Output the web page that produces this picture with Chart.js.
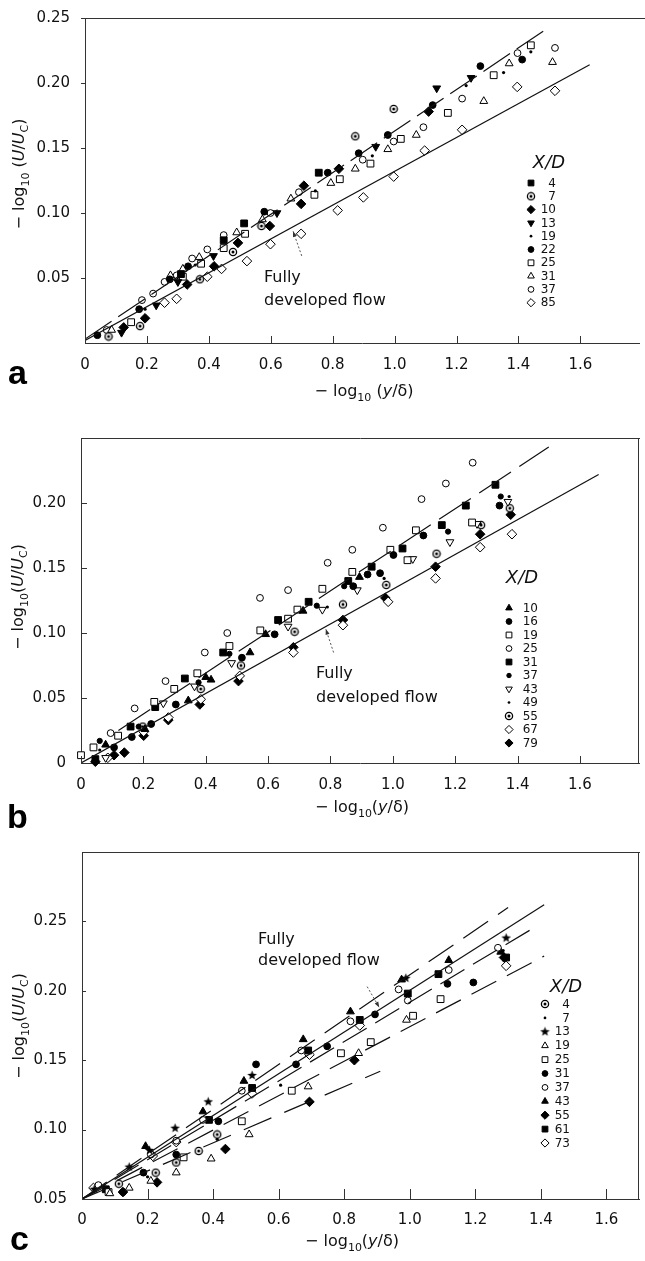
<!DOCTYPE html>
<html><head><meta charset="utf-8">
<script src="https://cdn.jsdelivr.net/npm/chart.js@4.4.0/dist/chart.umd.min.js"></script>
<style>
html,body{margin:0;padding:0;background:#fff;}
body{width:645px;height:1261px;position:relative;overflow:hidden;}
canvas{position:absolute;left:0;}
</style></head><body>
<canvas id="ca" width="645" height="410" style="top:0px"></canvas>
<canvas id="cb" width="645" height="420" style="top:410px"></canvas>
<canvas id="cc" width="645" height="431" style="top:830px"></canvas>
<script>
// ---------------- tick values / labels ----------------
const xTickVals = [0,0.2,0.4,0.6,0.8,1.0,1.2,1.4,1.6];
const xTickLabels = ['0','0.2','0.4','0.6','0.8','1.0','1.2','1.4','1.6'];
const aYTickVals = [0.05,0.10,0.15,0.20,0.25];
const aYTickLabels = ['0.05','0.10','0.15','0.20','0.25'];
const bYTickVals = [0,0.05,0.10,0.15,0.20];
const bYTickLabels = ['0','0.05','0.10','0.15','0.20'];
const cYTickVals = [0.05,0.10,0.15,0.20,0.25];
const cYTickLabels = ['0.05','0.10','0.15','0.20','0.25'];

// ---------------- panel a data (X/D categories) ----------------
const aCategories = ['4','7','10','13','19','22','25','31','37','85'];
const a4  = [[0.31,0.053],[0.448,0.079],[0.514,0.092],[0.755,0.131]];
const a7  = [[0.076,0.005],[0.178,0.013],[0.371,0.049],[0.478,0.070],[0.570,0.090],[0.873,0.159],[0.997,0.180]];
const a10 = [[0.125,0.012],[0.194,0.019],[0.33,0.045],[0.417,0.059],[0.494,0.077],[0.597,0.090],[0.698,0.107],[0.707,0.121],[0.82,0.134],[1.11,0.178]];
const a13 = [[0.118,0.008],[0.23,0.029],[0.30,0.047],[0.415,0.067],[0.62,0.100],[0.939,0.151],[1.136,0.196],[1.247,0.204]];
const a19 = [[0.194,0.026],[0.356,0.060],[0.744,0.117],[0.928,0.144],[1.231,0.198],[1.352,0.208],[1.44,0.224]];
const a22 = [[0.04,0.006],[0.175,0.026],[0.274,0.049],[0.333,0.059],[0.579,0.101],[0.784,0.131],[0.884,0.146],[0.978,0.160],[1.123,0.183],[1.277,0.213],[1.412,0.218]];
const a25 = [[0.149,0.016],[0.316,0.051],[0.375,0.061],[0.448,0.073],[0.517,0.084],[0.741,0.114],[0.823,0.126],[0.922,0.138],[1.02,0.157],[1.172,0.177],[1.32,0.206],[1.44,0.229]];
const a31 = [[0.086,0.010],[0.276,0.052],[0.316,0.057],[0.369,0.066],[0.49,0.085],[0.573,0.095],[0.665,0.111],[0.794,0.123],[0.873,0.134],[0.978,0.149],[1.07,0.160],[1.288,0.186],[1.37,0.215],[1.51,0.216]];
const a37 = [[0.07,0.010],[0.184,0.033],[0.22,0.038],[0.257,0.047],[0.296,0.052],[0.346,0.065],[0.395,0.072],[0.448,0.083],[0.599,0.100],[0.691,0.116],[0.897,0.141],[0.997,0.155],[1.093,0.166],[1.218,0.188],[1.397,0.223],[1.518,0.227]];
const a85 = [[0.257,0.031],[0.296,0.034],[0.395,0.051],[0.441,0.057],[0.523,0.063],[0.599,0.076],[0.698,0.084],[0.816,0.102],[0.899,0.112],[0.997,0.128],[1.097,0.148],[1.218,0.164],[1.396,0.197],[1.518,0.194]];
const aSeries = [a4,a7,a10,a13,a19,a22,a25,a31,a37,a85];
const aFullX = [0, 1.63],  aFullY = [0.002, 0.214];
const aUpX   = [0, 1.50],  aUpY   = [0.003, 0.243];

// ---------------- panel b data ----------------
const bCategories = ['10','16','19','25','31','37','43','49','55','67','79'];
const b10 = [[0.079,0.014],[0.205,0.026],[0.344,0.048],[0.40,0.066],[0.417,0.064],[0.542,0.085],[0.592,0.099],[0.712,0.117],[0.893,0.143]];
const b16 = [[0.106,0.012],[0.163,0.020],[0.225,0.030],[0.304,0.045],[0.516,0.081],[0.621,0.099],[0.873,0.136],[0.919,0.145],[0.959,0.146],[1.002,0.160],[1.098,0.175],[1.342,0.198]];
const b19 = [[0.0,0.006],[0.04,0.012],[0.119,0.021],[0.235,0.047],[0.299,0.057],[0.373,0.069],[0.476,0.090],[0.575,0.102],[0.664,0.111],[0.694,0.118],[0.774,0.134],[0.87,0.147],[0.992,0.164],[1.047,0.156],[1.074,0.179],[1.254,0.185]];
const b25 = [[0.095,0.023],[0.172,0.042],[0.271,0.063],[0.397,0.085],[0.469,0.100],[0.574,0.127],[0.664,0.133],[0.791,0.154],[0.87,0.164],[0.968,0.181],[1.092,0.203],[1.17,0.215],[1.256,0.231]];
const b31 = [[0.046,0.003],[0.159,0.028],[0.238,0.043],[0.333,0.065],[0.456,0.085],[0.632,0.110],[0.73,0.124],[0.857,0.140],[0.932,0.151],[1.031,0.165],[1.157,0.183],[1.234,0.198],[1.329,0.214]];
const b37 = [[0.06,0.017],[0.185,0.028],[0.377,0.062],[0.476,0.084],[0.756,0.121],[0.844,0.136],[1.177,0.178],[1.346,0.205]];
const b43 = [[0.079,0.004],[0.264,0.046],[0.364,0.059],[0.483,0.077],[0.664,0.105],[0.774,0.118],[0.886,0.133],[1.064,0.157],[1.183,0.170],[1.27,0.184],[1.369,0.201]];
const b49 = [[0.06,0.010],[0.79,0.120],[0.972,0.142],[1.18,0.178],[1.28,0.184],[1.373,0.205]];
const b55 = [[0.198,0.028],[0.384,0.057],[0.513,0.075],[0.685,0.101],[0.84,0.122],[0.979,0.137],[1.14,0.161],[1.283,0.183],[1.375,0.196]];
const b67 = [[0.086,0.004],[0.201,0.024],[0.28,0.035],[0.384,0.049],[0.509,0.067],[0.681,0.085],[0.84,0.106],[0.985,0.124],[1.137,0.142],[1.28,0.166],[1.382,0.176]];
const b79 = [[0.046,0.001],[0.106,0.006],[0.139,0.008],[0.201,0.021],[0.28,0.033],[0.381,0.045],[0.505,0.063],[0.681,0.089],[0.84,0.110],[0.976,0.127],[1.137,0.151],[1.28,0.176],[1.378,0.191]];
const bSeries = [b10,b16,b19,b25,b31,b37,b43,b49,b55,b67,b79];
const bFullX = [0, 1.66], bFullY = [0.0, 0.222];
const bUpX   = [0.12, 1.50], bUpY = [0.025, 0.243];

// ---------------- panel c data ----------------
const cCategories = ['4','7','13','19','25','31','37','43','55','61','73'];
const c4  = [[0.1125,0.061],[0.225,0.069],[0.2875,0.0763],[0.356,0.0846],[0.4125,0.0965]];
const c7  = [[0.2,0.066],[0.4125,0.093],[0.606,0.132],[1.285,0.229]];
const c13 = [[0.0375,0.057],[0.144,0.073],[0.206,0.085],[0.284,0.101],[0.385,0.120],[0.519,0.139],[0.988,0.209],[1.294,0.238]];
const c19 = [[0.085,0.054],[0.144,0.058],[0.21,0.063],[0.2875,0.069],[0.394,0.079],[0.51,0.0965],[0.69,0.131],[0.844,0.155],[0.99,0.179]];
const c25 = [[0.081,0.055],[0.31,0.080],[0.4875,0.106],[0.64,0.128],[0.79,0.155],[0.881,0.163],[1.01,0.182],[1.094,0.194]];
const c31 = [[0.125,0.055],[0.1875,0.069],[0.2875,0.082],[0.416,0.106],[0.531,0.147],[0.653,0.147],[0.748,0.160],[0.894,0.183],[1.115,0.205],[1.194,0.206]];
const c37 = [[0.05,0.060],[0.21,0.082],[0.2875,0.092],[0.369,0.107],[0.4875,0.128],[0.669,0.157],[0.819,0.178],[0.966,0.201],[0.994,0.193],[1.119,0.215],[1.269,0.231]];
const c43 = [[0.194,0.088],[0.369,0.113],[0.494,0.135],[0.675,0.165],[0.819,0.185],[0.975,0.208],[1.119,0.222],[1.2775,0.228]];
const c55 = [[0.125,0.055],[0.229,0.062],[0.4375,0.086],[0.694,0.120],[0.831,0.150],[1.2875,0.224]];
const c61 = [[0.0725,0.057],[0.3875,0.107],[0.519,0.130],[0.69,0.157],[0.8475,0.179],[0.994,0.198],[1.0875,0.212],[1.294,0.224]];
const c73 = [[0.035,0.058],[0.216,0.081],[0.2875,0.091],[0.519,0.126],[0.694,0.154],[0.8475,0.175],[1.294,0.218]];
const cSeries = [c4,c7,c13,c19,c25,c31,c37,c43,c55,c61,c73];
const cL1X = [0, 1.30], cL1Y = [0.05, 0.260];
const cL2X = [0, 1.41], cL2Y = [0.05, 0.262];
const cL3X = [0, 1.39], cL3Y = [0.05, 0.247];
const cL4X = [0, 1.41], cL4Y = [0.05, 0.225];
const cL5X = [0, 0.91], cL5Y = [0.05, 0.142];

// ---------------- marker styles ----------------
const FONT = 'DejaVu Sans';
function mkImg(draw, s){ const c=document.createElement('canvas'); c.width=s; c.height=s; draw(c.getContext('2d'), s); return c; }
const odotImg = mkImg((g,s)=>{ g.lineWidth=1.3; g.strokeStyle='#000'; g.fillStyle='#fff'; g.beginPath(); g.arc(s/2,s/2,3.6,0,Math.PI*2); g.fill(); g.stroke(); g.fillStyle='#000'; g.beginPath(); g.arc(s/2,s/2,1.5,0,Math.PI*2); g.fill(); }, 10);
const starImg = mkImg((g,s)=>{ g.fillStyle='#000'; g.beginPath(); for(let i=0;i<10;i++){ const r = i%2?2.1:5.0; const a=-Math.PI/2+i*Math.PI/5; const px=s/2+r*Math.cos(a), py=s/2+r*Math.sin(a); i?g.lineTo(px,py):g.moveTo(px,py);} g.closePath(); g.fill(); }, 11);
const MK = {
  sqF:{style:'rect', r:4.8, fill:'#000', bw:1},
  sqO:{style:'rect', r:4.8, fill:'#fff', bw:1},
  cirF:{style:'circle', r:3.4, fill:'#000', bw:1},
  cirS:{style:'circle', r:2.6, fill:'#000', bw:1},
  cirO:{style:'circle', r:3.4, fill:'#fff', bw:1},
  dot:{style:'circle', r:1.6, fill:'#000', bw:0},
  triF:{style:'triangle', r:4.5, fill:'#000', bw:1},
  triO:{style:'triangle', r:4.5, fill:'#fff', bw:1},
  triDF:{style:'triangle', r:4.5, rot:180, fill:'#000', bw:1},
  triDO:{style:'triangle', r:4.5, rot:180, fill:'#fff', bw:1},
  diaF:{style:'rectRot', r:4.8, fill:'#000', bw:1},
  diaO:{style:'rectRot', r:4.8, fill:'#fff', bw:1},
  odot:{style:odotImg, r:4, fill:'#fff', bw:1},
  star:{style:starImg, r:4, fill:'#000', bw:1}
};
const aMarkers = ['sqF','odot','diaF','triDF','dot','cirF','sqO','triO','cirO','diaO'];
const bMarkers = ['triF','cirF','sqO','cirO','sqF','cirS','triDO','dot','odot','diaO','diaF'];
const cMarkers = ['odot','dot','star','triO','sqO','cirF','cirO','triF','diaF','sqF','diaO'];

function scatterDs(points, mkName, label){
  const m = MK[mkName];
  return { label, data: points.map(p=>({x:p[0],y:p[1]})), showLine:false, clip:false,
    pointStyle:m.style, pointRadius:m.r, pointHoverRadius:m.r, pointRotation:m.rot||0,
    pointBackgroundColor:m.fill, pointBorderColor:'#000', pointBorderWidth:m.bw, isMarker:true };
}
function lineDs(xs, ys, dash){
  return { data: xs.map((x,i)=>({x, y:ys[i]})), showLine:true, borderColor:'#111', borderWidth:1.2,
    borderDash:dash||[], pointRadius:0, fill:false, isMarker:false };
}

// ---------------- decoration plugin ----------------
function richText(ctx, pieces, cx, cy, rot){
  let w=0; pieces.forEach(p=>{ ctx.font=p.f; p.w=ctx.measureText(p.t).width; w+=p.w; });
  ctx.save(); ctx.translate(cx,cy); if(rot) ctx.rotate(-Math.PI/2);
  let x=-w/2; ctx.textBaseline='alphabetic'; ctx.textAlign='left'; ctx.fillStyle='#111';
  pieces.forEach(p=>{ ctx.font=p.f; ctx.fillText(p.t, x, 6+(p.dy||0)); x+=p.w; });
  ctx.restore();
}
const decor = {
  id:'decor',
  afterDatasetsDraw(chart, args, o){
    const ctx=chart.ctx, ca=chart.chartArea, xs=chart.scales.x, ys=chart.scales.y;
    ctx.save();
    ctx.strokeStyle='#333'; ctx.lineWidth=1;
    ctx.beginPath();
    ctx.moveTo(ca.left, Math.round(ca.top)+0.5); ctx.lineTo(o.topEnd, Math.round(ca.top)+0.5);
    if(o.box){ ctx.moveTo(Math.round(ca.right)-0.5, ca.top); ctx.lineTo(Math.round(ca.right)-0.5, ca.bottom); }
    xTickVals.forEach(v=>{ const px=Math.round(xs.getPixelForValue(v))+0.5; ctx.moveTo(px, ca.bottom); ctx.lineTo(px, ca.bottom-o.xTick); });
    o.yTicks.forEach(v=>{ const py=Math.round(ys.getPixelForValue(v))+0.5; ctx.moveTo(ca.left, py); ctx.lineTo(ca.left+o.yTick, py); });
    ctx.stroke();
    // axis titles
    const f16 = '16px '+FONT, f11 = '11px '+FONT, i16='italic 16px '+FONT;
    const sp = o.tight ? '' : ' ';
    richText(ctx, [{t:'\u2212 log',f:f16},{t:'10',f:f11,dy:5},{t:sp+'(',f:f16},{t:'y',f:i16},{t:'/\u03B4)',f:f16}], o.xTitle[0], o.xTitle[1], false);
    richText(ctx, [{t:'\u2212 log',f:f16},{t:'10',f:f11,dy:5},{t:sp+'(',f:f16},{t:'U',f:i16},{t:'/',f:f16},{t:'U',f:i16},{t:'C',f:f11,dy:4},{t:')',f:f16}], o.yTitle[0], o.yTitle[1], true);
    // panel letter
    ctx.fillStyle='#000'; ctx.font='bold 34px Liberation Sans'; ctx.textAlign='left'; ctx.textBaseline='alphabetic';
    ctx.fillText(o.letter[0], o.letter[1], o.letter[2]);
    // annotation
    ctx.font='16px '+FONT; ctx.fillStyle='#111'; ctx.textBaseline='middle';
    ctx.fillText('Fully', o.note[0], o.note[1]);
    ctx.fillText('developed flow', o.note[0], o.note[2]);
    const ax0=xs.getPixelForValue(o.arrow[0]), ay0=ys.getPixelForValue(o.arrow[1]);
    const ax1=xs.getPixelForValue(o.arrow[2]), ay1=ys.getPixelForValue(o.arrow[3]);
    ctx.save(); ctx.setLineDash([2,2]); ctx.strokeStyle='#555'; ctx.lineWidth=1;
    ctx.beginPath(); ctx.moveTo(ax0,ay0); ctx.lineTo(ax1,ay1); ctx.stroke(); ctx.restore();
    const ang=Math.atan2(ay1-ay0, ax1-ax0);
    ctx.fillStyle='#333'; ctx.beginPath(); ctx.moveTo(ax1,ay1);
    ctx.lineTo(ax1-6*Math.cos(ang-0.35), ay1-6*Math.sin(ang-0.35));
    ctx.lineTo(ax1-6*Math.cos(ang+0.35), ay1-6*Math.sin(ang+0.35)); ctx.closePath(); ctx.fill();
    // legend
    const L=o.legend;
    ctx.font='italic 18px '+FONT; ctx.textAlign='center'; ctx.textBaseline='middle'; ctx.fillStyle='#111';
    ctx.fillText('X/D', L.tx, L.ty);
    ctx.font='12px '+FONT; ctx.textAlign='right';
    let row=0;
    chart.data.datasets.forEach(d=>{
      if(!d.isMarker) return;
      const y=L.y0+row*L.dy;
      ctx.fillStyle=d.pointBackgroundColor; ctx.strokeStyle='#000'; ctx.lineWidth=d.pointBorderWidth;
      Chart.helpers.drawPoint(ctx,{pointStyle:d.pointStyle, rotation:d.pointRotation, radius:d.pointRadius*0.85, borderWidth:d.pointBorderWidth}, L.mx, y);
      ctx.fillStyle='#111'; ctx.fillText(d.label, L.nx, y+0.5);
      row++;
    });
    ctx.restore();
  }
};

function makeChart(id, spec){
  const datasets = spec.lines.concat(spec.series.map((s,i)=>scatterDs(s, spec.markers[i], spec.cats[i])));
  return new Chart(document.getElementById(id), {
    type:'scatter',
    data:{datasets},
    options:{
      responsive:false, animation:false, devicePixelRatio:1, events:[],
      layout:{padding:{top:spec.padTop, right:spec.padRight, left:0, bottom:0}},
      plugins:{legend:{display:false}, tooltip:{enabled:false}, decor:spec.decor},
      scales:{
        x:{type:'linear', min:0, max:spec.xMax,
          afterBuildTicks:ax=>{ ax.ticks = xTickVals.map(v=>({value:v})); },
          afterFit:ax=>{ ax.height = spec.xH; },
          ticks:{callback:(v,i)=>xTickLabels[i], font:{family:FONT,size:15}, color:'#111', padding:spec.xPad, maxRotation:0, autoSkip:false},
          grid:{display:false}, border:{display:true, color:'#333', width:1}},
        y:{type:'linear', min:spec.yMin, max:spec.yMax,
          afterBuildTicks:ax=>{ ax.ticks = spec.yTicks.map(v=>({value:v})); },
          afterFit:ax=>{ ax.width = spec.yW; },
          ticks:{callback:(v,i)=>spec.yLabels[i], font:{family:FONT,size:15}, color:'#111', padding:7, autoSkip:false},
          grid:{display:false}, border:{display:true, color:'#333', width:1}}
      }
    },
    plugins:[decor]
  });
}

makeChart('ca', {
  cats:aCategories, series:aSeries, markers:aMarkers,
  lines:[lineDs(aFullX,aFullY), lineDs(aUpX,aUpY,[32,8])],
  xMax:1.79, yMin:0, yMax:0.25, yTicks:aYTickVals, yLabels:aYTickLabels,
  padTop:18, padRight:2, yW:85, xH:67, xPad:5,
  decor:{topEnd:645, box:false, xTick:7, yTick:-4, yTicks:aYTickVals, tight:false,
    xTitle:[364,390], yTitle:[18,174], letter:['a',8,384], note:[264,278,301], arrow:[0.70,0.067,0.672,0.086],
    legend:{tx:549, ty:163, mx:531, nx:556, y0:183, dy:13.3}}
});
makeChart('cb', {
  cats:bCategories, series:bSeries, markers:bMarkers,
  lines:[lineDs(bFullX,bFullY), lineDs(bUpX,bUpY,[38,10])],
  xMax:1.79, yMin:0, yMax:0.25, yTicks:bYTickVals, yLabels:bYTickLabels,
  padTop:28, padRight:5, yW:81, xH:67, xPad:5,
  decor:{topEnd:640, box:true, xTick:7, yTick:6, yTicks:bYTickVals, tight:true,
    xTitle:[362,396], yTitle:[17,187], letter:['b',7,418], note:[316,264,288], arrow:[0.81,0.085,0.785,0.103],
    legend:{tx:522, ty:168, mx:509, nx:538, y0:198, dy:13.5}}
});
makeChart('cc', {
  cats:cCategories, series:cSeries, markers:cMarkers,
  lines:[lineDs(cL1X,cL1Y,[30,12]), lineDs(cL2X,cL2Y), lineDs(cL3X,cL3Y,[28,10]), lineDs(cL4X,cL4Y,[28,12]), lineDs(cL5X,cL5Y,[30,14])],
  xMax:1.70, yMin:0.05, yMax:0.30, yTicks:cYTickVals, yLabels:cYTickLabels,
  padTop:22, padRight:5, yW:82, xH:62, xPad:4,
  decor:{topEnd:640, box:true, xTick:10, yTick:4, yTicks:cYTickVals, tight:true,
    xTitle:[352,410], yTitle:[18,196], letter:['c',10,420], note:[258,110,131], arrow:[0.87,0.203,0.907,0.188],
    legend:{tx:566, ty:157, mx:545, nx:570, y0:174, dy:13.9}}
});
</script>
</body></html>
